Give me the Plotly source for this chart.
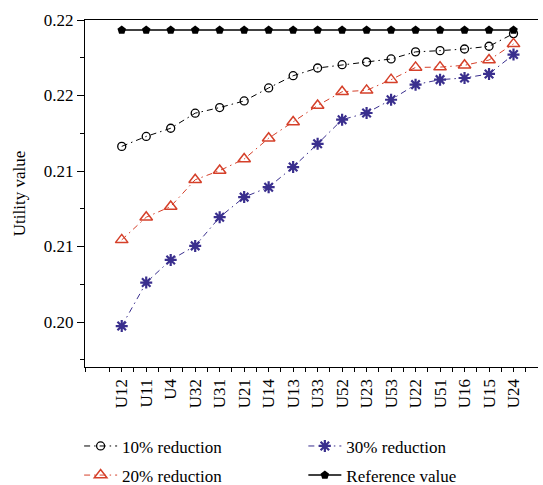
import plotly.graph_objects as go

categories = ["U12", "U11", "U4", "U32", "U31", "U21", "U14", "U13", "U33",
              "U52", "U23", "U53", "U22", "U51", "U16", "U15", "U24"]
red10 = [0.21163, 0.21229, 0.21283, 0.21383, 0.21420, 0.21464, 0.21550, 0.21631, 0.21682,
         0.21704, 0.21722, 0.21742, 0.21789, 0.21797, 0.21808, 0.21826, 0.21910]
red20 = [0.20544, 0.20694, 0.20765, 0.20942, 0.21003, 0.21079, 0.21217, 0.21324, 0.21434,
         0.21525, 0.21534, 0.21605, 0.21686, 0.21688, 0.21700, 0.21735, 0.21842]
red30 = [0.19973, 0.20261, 0.20411, 0.20504, 0.20694, 0.20827, 0.20893, 0.21026, 0.21180,
         0.21340, 0.21384, 0.21472, 0.21572, 0.21605, 0.21616, 0.21643, 0.21771]
reference = [0.21933] * len(categories)
ytick_vals = [0.200, 0.205, 0.210, 0.215, 0.220]
ytick_text = ["0.20", "0.21", "0.21", "0.22", "0.22"]

xpos = list(range(len(categories)))
FONT = "Liberation Serif"
dash = "6px,4px,1.5px,4px"
RED = "#d5402a"
BLUE = "#3a2f8e"

fig = go.Figure()
fig.add_trace(go.Scatter(x=xpos, y=reference, name="Reference value", mode="lines+markers",
                         line=dict(color="black", width=1.5),
                         marker=dict(symbol="pentagon", size=9, color="black"),
                         legend="legend2", legendgroup="d", legendrank=2))
fig.add_trace(go.Scatter(x=xpos, y=red10, name="10% reduction", mode="lines+markers",
                         line=dict(color="black", width=1, dash=dash),
                         marker=dict(symbol="circle-open", size=8, color="black", line=dict(width=1.3)),
                         legend="legend", legendgroup="a", legendrank=1))
fig.add_trace(go.Scatter(x=xpos, y=red20, name="20% reduction", mode="lines+markers",
                         line=dict(color=RED, width=1, dash=dash),
                         marker=dict(symbol="triangle-up-open", size=11, color=RED, line=dict(width=1.5)),
                         legend="legend", legendgroup="b", legendrank=2))
fig.add_trace(go.Scatter(x=xpos, y=red30, name="30% reduction", mode="lines+markers",
                         line=dict(color=BLUE, width=1, dash=dash),
                         marker=dict(symbol="asterisk-open", size=10, color=BLUE, line=dict(width=2.2, color=BLUE)),
                         legend="legend2", legendgroup="c", legendrank=1))

legend_common = dict(font=dict(family=FONT, size=17, color="black"), bgcolor="rgba(0,0,0,0)",
                     xanchor="left", yanchor="top", tracegroupgap=4, orientation="v",
                     itemwidth=33)
fig.update_layout(
    width=543, height=485,
    margin=dict(l=85, r=5, t=20, b=118, autoexpand=False),
    plot_bgcolor="white", paper_bgcolor="white",
    font=dict(family=FONT, size=17, color="black"),
    legend=dict(x=-0.013, y=-0.177, **legend_common),
    legend2=dict(x=0.482, y=-0.177, **legend_common),
    xaxis=dict(range=[-1.5, 17], tickmode="array", tickvals=xpos, ticktext=categories,
               tickangle=-90, ticks="outside", ticklen=4, tickcolor="black",
               showline=True, linecolor="black", linewidth=1.2, mirror=True,
               showgrid=False, zeroline=False, automargin=False,
               tickfont=dict(family=FONT, size=17),
               minor=dict(tickmode="linear", tick0=-0.5, dtick=1, ticks="outside",
                          ticklen=4, tickcolor="black")),
    yaxis=dict(range=[0.19702, 0.2200], tickmode="array", tickvals=ytick_vals, ticktext=ytick_text,
               ticks="outside", ticklen=7, tickcolor="black",
               showline=True, linecolor="black", linewidth=1.2, mirror=False,
               showgrid=False, zeroline=False, automargin=False,
               title=dict(text="Utility value", font=dict(family=FONT, size=17), standoff=13),
               tickfont=dict(family=FONT, size=17),
               minor=dict(tickmode="linear", tick0=0.1975, dtick=0.005, ticks="outside",
                          ticklen=4, tickcolor="black")),
)

fig.write_html("out.html", config={"displayModeBar": False},
               post_script="document.body.style.margin='0';document.body.style.overflow='hidden';")
